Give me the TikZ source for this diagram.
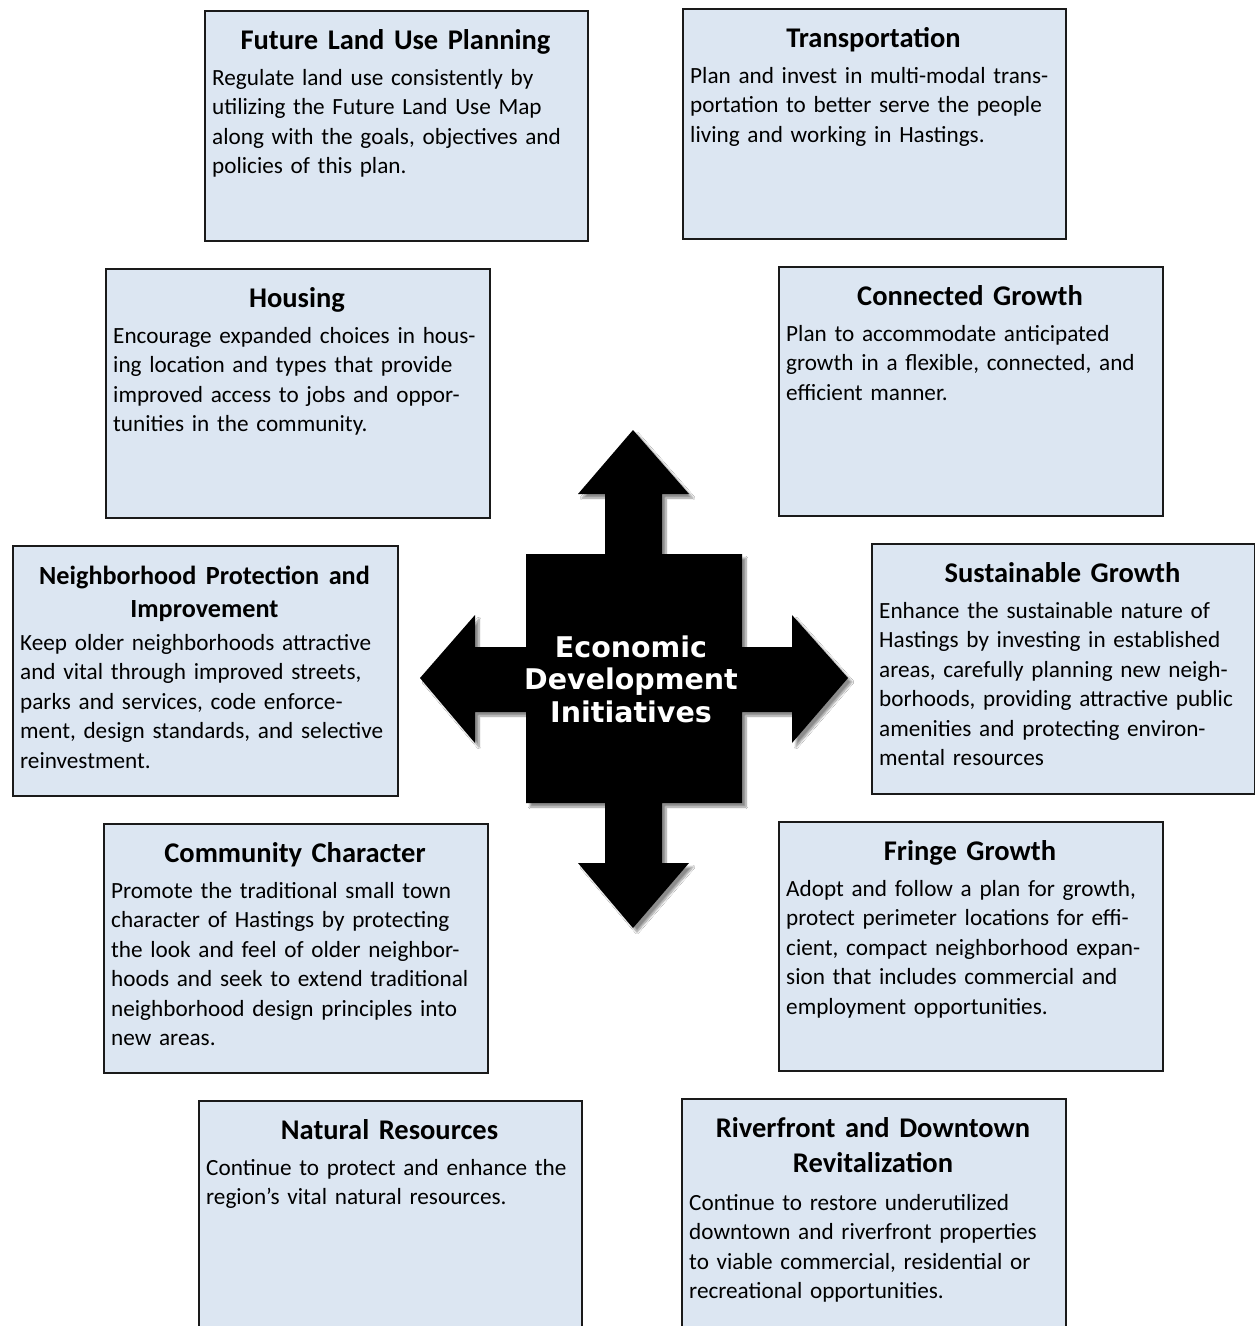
\documentclass[tikz,border=0pt]{standalone}
\usepackage{fontspec}
\setmainfont{Carlito}
\newfontfamily\hubfont{DejaVu Sans}
\usetikzlibrary{shadows.blur}
\definecolor{panelfill}{HTML}{DCE6F2}
\definecolor{panelline}{HTML}{1A1A1A}
\tikzset{
  panel/.style={draw=panelline, line width=1.6pt, fill=panelfill, inner sep=0pt, anchor=north west},
  paneltitle/.style={font=\fontsize{28.5}{33.5}\selectfont\bfseries, align=center, text width=376pt, inner sep=0pt, anchor=base},
  paneltext/.style={font=\fontsize{23.2}{29.5}\selectfont, align=left, text width=376pt, inner sep=0pt, anchor=base west},
  hub/.style={fill=black, blur shadow={shadow xshift=4pt, shadow yshift=-4pt, shadow blur steps=8, shadow opacity=45}},
  hubtext/.style={font=\hubfont\bfseries\fontsize{28.5}{32.5}\selectfont, text=white, align=center, text width=260pt, inner sep=0pt, anchor=base}
}
% #1 name, #2 left, #3 top, #4 width, #5 height, #6 title, #7 body baseline offset, #8 body
\newcommand\planbox[8]{%
  \node[panel, minimum width=#4pt, minimum height=#5pt] (#1) at (#2,#3) {};
  \node[paneltitle] (#1-title) at ({#2+#4/2},{#3+39}) {#6};
  \node[paneltext] (#1-text) at ({#2+8},{#3+#7}) {#8};
}
\begin{document}
\begin{tikzpicture}[x=1pt,y=-1pt]
\clip (0,0) rectangle (1255,1326);
\fill[white] (0,0) rectangle (1255,1326);

\planbox{landuse}{204}{10}{383}{230}{Future Land Use Planning}{75}{%
Regulate land use consistently by\\
utilizing the Future Land Use Map\\
along with the goals, objectives and\\
policies of this plan.}

\planbox{transport}{682}{8}{383}{230}{Transportation}{75}{%
Plan and invest in multi-modal trans-\\
portation to better serve the people\\
living and working in Hastings.}

\planbox{housing}{105}{268}{384}{249}{Housing}{75}{%
Encourage expanded choices in hous-\\
ing location and types that provide\\
improved access to jobs and oppor-\\
tunities in the community.}

\planbox{connected}{778}{266}{384}{249}{Connected Growth}{75}{%
Plan to accommodate anticipated\\
growth in a flexible, connected, and\\
efficient manner.}

\planbox{neighborhood}{12}{545}{385}{250}{\fontsize{26.2}{32}\selectfont
Neighborhood Protection and\\Improvement}{105}{%
Keep older neighborhoods attractive\\
and vital through improved streets,\\
parks and services, code enforce-\\
ment, design standards, and selective\\
reinvestment.}

\planbox{sustainable}{871}{543}{383}{250}{Sustainable Growth}{75}{%
Enhance the sustainable nature of\\
Hastings by investing in established\\
areas, carefully planning new neigh-\\
borhoods, providing attractive public\\
amenities and protecting environ-\\
mental resources}

\planbox{character}{103}{823}{384}{249}{Community Character}{75}{%
Promote the traditional small town\\
character of Hastings by protecting\\
the look and feel of older neighbor-\\
hoods and seek to extend traditional\\
neighborhood design principles into\\
new areas.}

\planbox{fringe}{778}{821}{384}{249}{Fringe Growth}{75}{%
Adopt and follow a plan for growth,\\
protect perimeter locations for effi-\\
cient, compact neighborhood expan-\\
sion that includes commercial and\\
employment opportunities.}

\planbox{natural}{198}{1100}{383}{240}{Natural Resources}{75}{%
Continue to protect and enhance the\\
region’s vital natural resources.}

\planbox{riverfront}{681}{1098}{384}{240}{Riverfront and Downtown\\[2pt]Revitalization}{112}{%
Continue to restore underutilized\\
downtown and riverfront properties\\
to viable commercial, residential or\\
recreational opportunities.}

% central four-way arrow
\fill[hub] (633,430) -- (689,494) -- (662,494) -- (662,554) -- (742,554) -- (742,647)
  -- (792,647) -- (792,615) -- (848,678) -- (792,743) -- (792,712) -- (742,712)
  -- (742,803) -- (662,803) -- (662,863) -- (689,863) -- (633,928) -- (578,863)
  -- (605,863) -- (605,803) -- (526,803) -- (526,712) -- (475,712) -- (475,743)
  -- (420,678) -- (475,615) -- (475,647) -- (526,647) -- (526,554) -- (605,554)
  -- (605,494) -- (578,494) -- cycle;
\node[hubtext] (hub) at (631,657) {Economic\\Development\\Initiatives};
\end{tikzpicture}
\end{document}
